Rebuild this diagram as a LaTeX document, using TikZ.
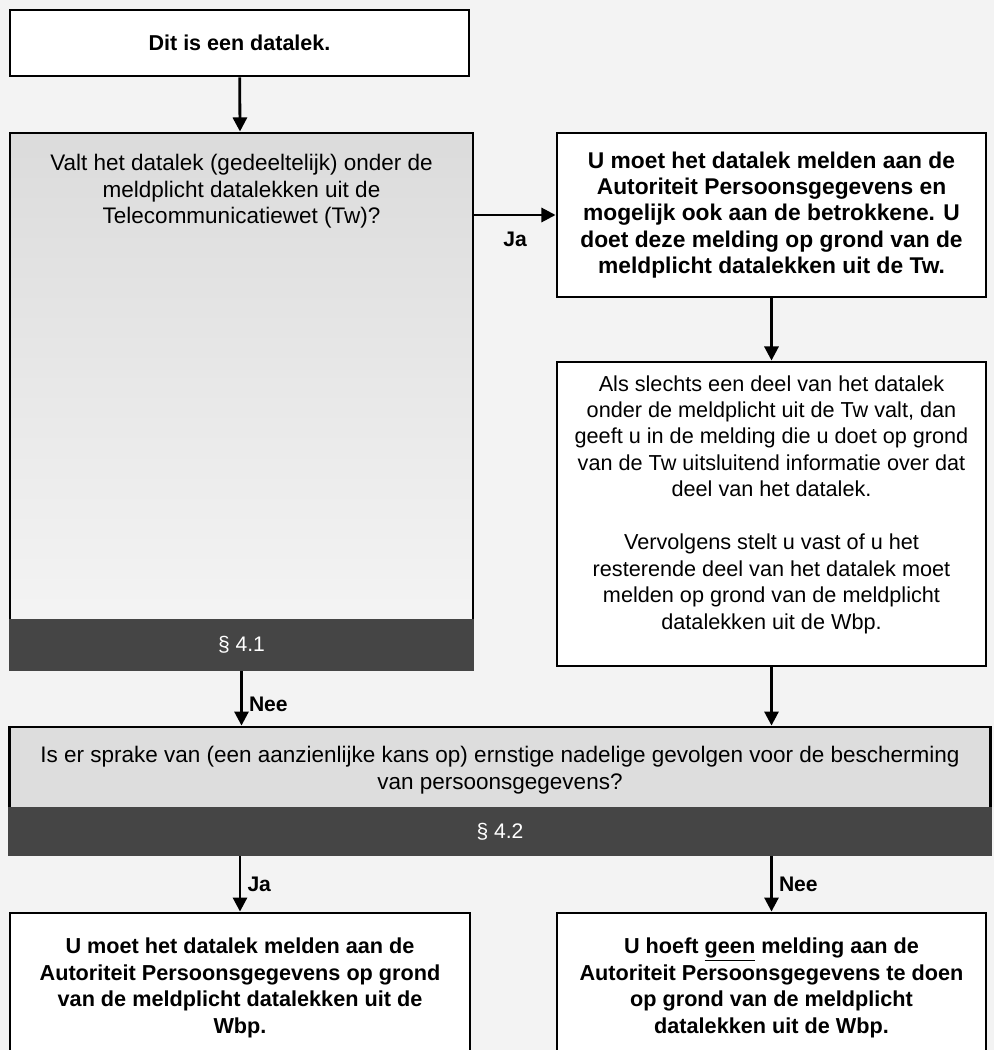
\documentclass[tikz,border=0pt]{standalone}
\usepackage{fontspec}
\setmainfont{Liberation Sans}
\usepackage{xcolor}
\usepackage{tikz}
\usetikzlibrary{positioning,calc,arrows.meta}
\definecolor{paper}{HTML}{F3F3F3}
\definecolor{barcol}{HTML}{454545}
\definecolor{askcol}{HTML}{DDDDDD}

\begin{document}
\begin{tikzpicture}[x=0.025cm,y=-0.025cm,
        box/.style={draw, line width=2pt, fill=white, inner sep=0pt, align=center,
            font=\fontsize{15.3}{18.8}\selectfont\bfseries},
        askbox/.style={box, fill=askcol},
        bar/.style={draw=barcol, line width=2pt, fill=barcol, text=white, inner sep=0pt,
            font=\fontsize{15}{18}\selectfont},
        asktext/.style={align=center, inner sep=0pt, font=\fontsize{16}{18.8}\selectfont},
        lab/.style={font=\fontsize{15}{18}\selectfont\bfseries},
        flow/.style={line width=2pt, -{Triangle[length=10pt,width=10pt]}}]
        \useasboundingbox (0,0) rectangle (994,1050);
        \fill[paper] (0,0) rectangle (994,1050);

        \node[box, minimum width=11.475cm, minimum height=1.65cm] (start) at (239.5,43) {Dit is een datalek.};
        \node[askbox, top color=gray!28, bottom color=gray!7, minimum width=11.575cm, minimum height=13.425cm] (q1) at (241.5,401.5) {};
        \node[bar, anchor=south, minimum width=11.575cm, minimum height=1.25cm] (p41) at (q1.south) {\S\ 4.1};
        \node[asktext, below=16pt of q1.north] (q1txt) {Valt het datalek (gedeeltelijk) onder de\\
            meldplicht datalekken uit de\\ Telecommunicatiewet (Tw)?};

        \node[box, font=\fontsize{16.2}{18.8}\selectfont\bfseries, minimum width=10.725cm, minimum height=4.1cm] (tw) at (771.5,215) {U moet het datalek melden aan de\\
            Autoriteit Persoonsgegevens en\\ mogelijk ook aan de betrokkene. U\\
            doet deze melding op grond van de\\ meldplicht datalekken uit de Tw.};
        \node[box, font=\fontsize{15.4}{18.8}\selectfont, minimum width=10.725cm, minimum height=7.6cm] (deel) at (771.5,514) {Als slechts een deel van het datalek\\
            onder de meldplicht uit de Tw valt, dan\\ geeft u in de melding die u doet op grond\\
            van de Tw uitsluitend informatie over dat\\ deel van het datalek.\\[18.8pt]
            Vervolgens stelt u vast of u het\\ resterende deel van het datalek moet\\
            melden op grond van de meldplicht\\ datalekken uit de Wbp.\\[-2pt]};

        \node[askbox, minimum width=24.5cm, minimum height=3.2cm] (q2) at (500,791) {};
        \node[bar, anchor=south, minimum width=24.5cm, minimum height=1.175cm] (p42) at (q2.south) {\S\ 4.2};
        \node[asktext, yshift=-3pt] (q2txt) at ($(q2.north)!0.5!(p42.north)$) {Is er sprake van (een aanzienlijke kans op) ernstige nadelige gevolgen voor de bescherming\\
            van persoonsgegevens?};

        \node[box, font=\fontsize{15.4}{18.8}\selectfont\bfseries, minimum width=11.5cm, minimum height=3.75cm] (wbp) at (240,988) {U moet het datalek melden aan de\\
            Autoriteit Persoonsgegevens op grond\\ van de meldplicht datalekken uit de\\ Wbp.};
        \node[box, font=\fontsize{15.4}{18.8}\selectfont\bfseries, minimum width=10.725cm, minimum height=3.75cm] (geen) at (771.5,988) {U hoeft \underline{geen} melding aan de\\
            Autoriteit Persoonsgegevens te doen\\ op grond van de meldplicht\\ datalekken uit de Wbp.};

        \draw[flow] (start) -- (q1);
        \draw[flow] (q1.east |- tw.west) -- node[lab, below=8pt] {Ja} (tw.west);
        \draw[flow] (tw) -- (deel);
        \draw[flow] (deel) -- (deel.south |- q2.north);
        \draw[flow] (p41.south) -- node[lab, right=1pt, pos=0.6] {Nee} (p41.south |- q2.north);
        \draw[flow] (wbp.north |- p42.south) -- node[lab, right=1pt] {Ja} (wbp.north);
        \draw[flow] (geen.north |- p42.south) -- node[lab, right=1pt] {Nee} (geen.north);
    \end{tikzpicture}
\end{document}
